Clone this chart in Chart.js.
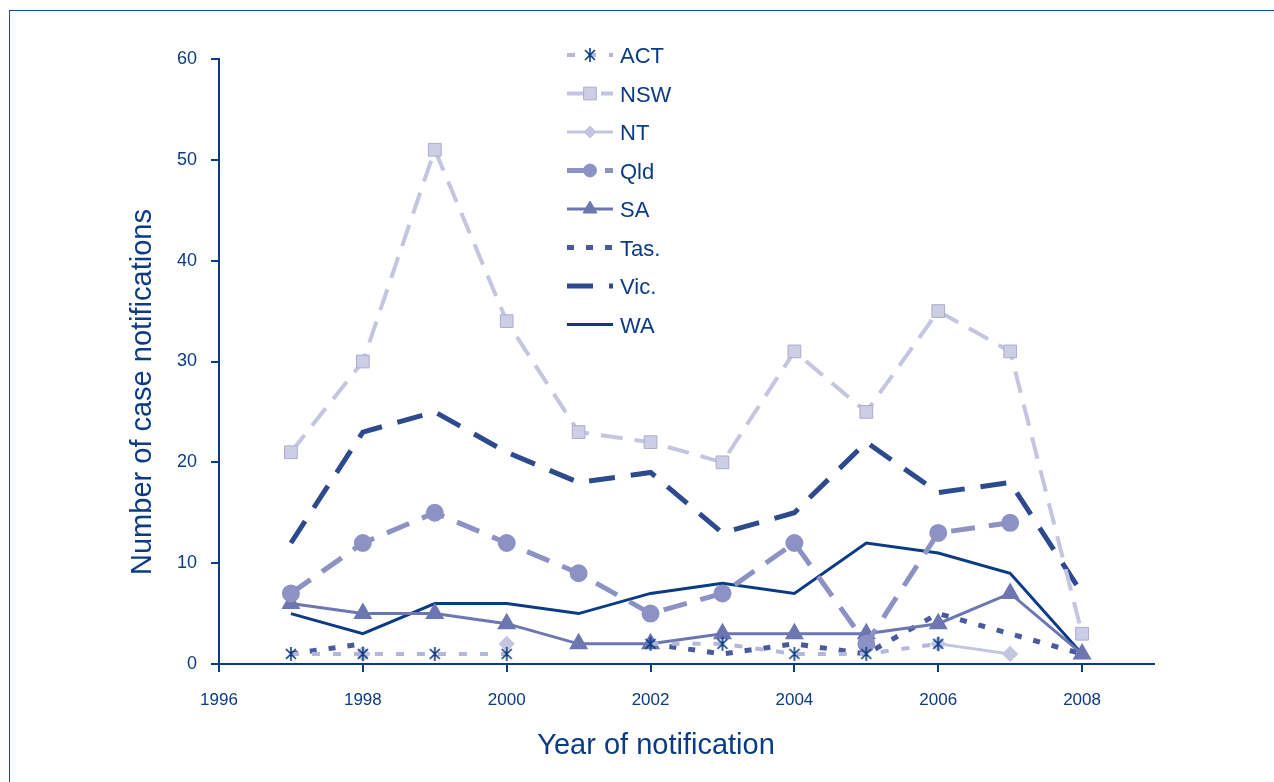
<!DOCTYPE html>
<html>
<head>
<meta charset="utf-8">
<script src="https://cdn.jsdelivr.net/npm/chart.js@4.4.1/dist/chart.umd.min.js"></script>
<style>
  body { margin: 0; background: #fff; }
  .wrap { position: relative; width: 1274px; height: 782px; overflow: hidden; }
  .frame { position: absolute; left: 9px; top: 10px; width: 1300px; height: 800px; border-top: 1px solid #1a4a8f; border-left: 1px solid #1a4a8f; }
  canvas { position: absolute; left: 0; top: 0; }
</style>
</head>
<body>
<div class="wrap">
  <div class="frame"></div>
  <canvas id="chart" width="1274" height="782"></canvas>
</div>
<script>
// years and case counts per state (null = no notification point drawn)
const years = [1997, 1998, 1999, 2000, 2001, 2002, 2003, 2004, 2005, 2006, 2007, 2008]
const act = [1, 1, 1, 1, null, 2, 2, 1, 1, 2, null, null]
const nsw = [21, 30, 51, 34, 23, 22, 20, 31, 25, 35, 31, 3]
const nt  = [null, 1, null, 2, null, null, null, null, null, 2, 1, null]
const qld = [7, 12, 15, 12, 9, 5, 7, 12, 2, 13, 14, null]
const sa  = [6, 5, 5, 4, 2, 2, 3, 3, 3, 4, 7, 1]
const tas = [1, 2, null, null, null, 2, 1, 2, 1, 5, 3, 1]
const vic = [12, 23, 25, 21, 18, 19, 13, 15, 22, 17, 18, 7]
const wa  = [5, 3, 6, 6, 5, 7, 8, 7, 12, 11, 9, 1]

const xTicks = [1996, 1998, 2000, 2002, 2004, 2006, 2008]
const yTicks = [0, 10, 20, 30, 40, 50, 60]

const xTitle = 'Year of notification'
const yTitle = 'Number of case notifications'

const navy = '#0b3b85'
const font = 'Arial, "Liberation Sans", sans-serif'

// asterisk marker for ACT
function makeAsterisk() {
  const c = document.createElement('canvas')
  c.width = 16; c.height = 16
  const g = c.getContext('2d')
  g.strokeStyle = navy
  g.lineWidth = 1.6
  g.beginPath()
  g.moveTo(8, 1); g.lineTo(8, 15)
  g.moveTo(3, 3); g.lineTo(13, 13)
  g.moveTo(13, 3); g.lineTo(3, 13)
  g.stroke()
  return c
}
const asterisk = makeAsterisk()

function pts(arr) {
  return arr.map((v, i) => ({ x: years[i], y: v }))
}

const datasets = [
  { label: 'ACT', data: pts(act), borderColor: '#b3b7d9', borderWidth: 4, borderDash: [8, 13],
    pointStyle: asterisk, pointRadius: 7, pointBackgroundColor: navy, pointBorderColor: navy },
  { label: 'NSW', data: pts(nsw), borderColor: '#c3c6e0', borderWidth: 4, borderDash: [22, 12],
    pointStyle: 'rect', pointRadius: 9, pointBackgroundColor: '#ccceE5', pointBorderColor: '#a9add2', pointBorderWidth: 1 },
  { label: 'NT', data: pts(nt), borderColor: '#c3c6e1', borderWidth: 3,
    pointStyle: 'rectRot', pointRadius: 6, pointBackgroundColor: '#c3c6e1', pointBorderColor: '#c3c6e1' },
  { label: 'Qld', data: pts(qld), borderColor: '#8c93c4', borderWidth: 5, borderDash: [24, 14],
    pointStyle: 'circle', pointRadius: 6.5, pointBackgroundColor: '#8c93c4', pointBorderColor: '#8c93c4' },
  { label: 'SA', data: pts(sa), borderColor: '#6c76b1', borderWidth: 3,
    pointStyle: 'triangle', pointRadius: 8, pointBackgroundColor: '#6c76b1', pointBorderColor: '#6c76b1' },
  { label: 'Tas.', data: pts(tas), borderColor: '#4b5a9d', borderWidth: 5, borderDash: [7, 12],
    pointRadius: 0 },
  { label: 'Vic.', data: pts(vic), borderColor: '#2c4a8d', borderWidth: 5, borderDash: [26, 16],
    pointRadius: 0 },
  { label: 'WA', data: pts(wa), borderColor: navy, borderWidth: 3,
    pointRadius: 0 }
]
datasets.forEach(d => { d.fill = false; d.tension = 0; d.spanGaps = false; d.borderCapStyle = 'butt' })

// legend list and axis titles (titles sit off-centre in the original)
const sideLegend = {
  id: 'sideLegend',
  afterDraw(chart) {
    const ctx = chart.ctx
    chart.data.datasets.forEach((ds, i) => {
      const y = 55 + i * 38.5
      ctx.save()
      ctx.strokeStyle = ds.borderColor
      ctx.lineWidth = ds.borderWidth
      ctx.setLineDash(ds.borderDash || [])
      ctx.beginPath()
      ctx.moveTo(567, y)
      ctx.lineTo(613, y)
      ctx.stroke()
      ctx.setLineDash([])
      if (ds.pointRadius > 0) {
        ctx.fillStyle = ds.pointBackgroundColor
        ctx.strokeStyle = ds.pointBorderColor
        ctx.lineWidth = ds.pointBorderWidth || 1
        Chart.helpers.drawPoint(ctx, { pointStyle: ds.pointStyle, rotation: 0, radius: ds.pointRadius, borderWidth: ctx.lineWidth }, 590, y)
      }
      ctx.fillStyle = navy
      ctx.font = '22px ' + font
      ctx.textBaseline = 'middle'
      ctx.fillText(ds.label, 620, y + 2)
      ctx.restore()
    })

    ctx.save()
    ctx.fillStyle = navy
    ctx.font = '29px ' + font
    ctx.textAlign = 'center'
    ctx.textBaseline = 'middle'
    ctx.fillText(xTitle, 656, 746)
    ctx.translate(143, 392)
    ctx.rotate(-Math.PI / 2)
    ctx.fillText(yTitle, 0, 0)
    ctx.restore()
  }
}

new Chart(document.getElementById('chart'), {
  type: 'line',
  data: { datasets },
  options: {
    responsive: false,
    animation: false,
    layout: { padding: { top: 59, right: 120, left: 0, bottom: 0 } },
    plugins: { legend: { display: false }, tooltip: { enabled: false } },
    scales: {
      x: {
        type: 'linear', min: 1996, max: 2009,
        afterBuildTicks: s => { s.ticks = xTicks.map(v => ({ value: v })) },
        afterFit: s => { s.height = 118 },
        border: { display: true, color: navy, width: 2 },
        grid: { display: true, drawOnChartArea: false, drawTicks: true, tickLength: 8, color: navy, lineWidth: 2 },
        ticks: { color: navy, font: { family: font, size: 17 }, padding: 18, maxRotation: 0,
          callback: v => String(v) }
      },
      y: {
        min: 0, max: 60,
        afterBuildTicks: s => { s.ticks = yTicks.map(v => ({ value: v })) },
        afterFit: s => { s.width = 219 },
        border: { display: true, color: navy, width: 2 },
        grid: { display: true, drawOnChartArea: false, drawTicks: true, tickLength: 8, color: navy, lineWidth: 2 },
        ticks: { color: navy, font: { family: font, size: 18 }, padding: 14 }
      }
    }
  },
  plugins: [sideLegend]
})
</script>
</body>
</html>
